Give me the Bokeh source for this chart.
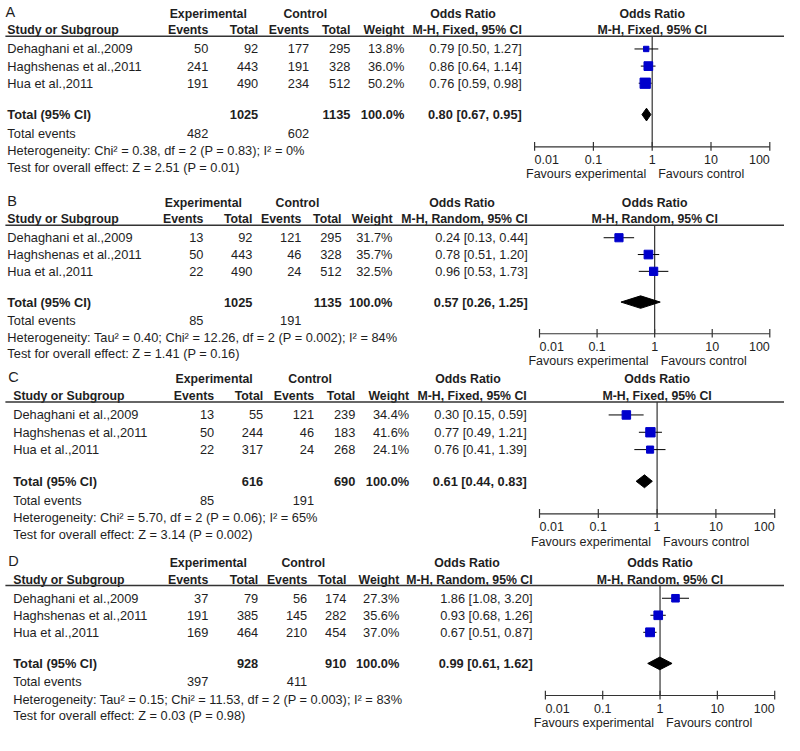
import math
from bokeh.plotting import figure
from bokeh.models import Range1d, LogScale, ColumnDataSource
from bokeh.layouts import column
from bokeh.embed import file_html
from bokeh.resources import INLINE
from bokeh.core.properties import value

# ---------------- data ----------------
studies = ["Dehaghani et al.,2009", "Haghshenas et al.,2011", "Hua et al.,2011"]
tick_values = [0.01, 0.1, 1, 10, 100]
tick_labels = ["0.01", "0.1", "1", "10", "100"]

# Panel A
a_exp_events = [50, 241, 191]
a_exp_total = [92, 443, 490]
a_ctl_events = [177, 191, 234]
a_ctl_total = [295, 328, 512]
a_weight = [13.8, 36.0, 50.2]
a_or = [0.79, 0.86, 0.76]
a_or_low = [0.50, 0.64, 0.59]
a_or_high = [1.27, 1.14, 0.98]
a_pooled = [0.80, 0.67, 0.95]
a_sum_total = [1025, 1135]
a_sum_events = [482, 602]
a_het = "Heterogeneity: Chi² = 0.38, df = 2 (P = 0.83); I² = 0%"
a_test = "Test for overall effect: Z = 2.51 (P = 0.01)"

# Panel B
b_exp_events = [13, 50, 22]
b_exp_total = [92, 443, 490]
b_ctl_events = [121, 46, 24]
b_ctl_total = [295, 328, 512]
b_weight = [31.7, 35.7, 32.5]
b_or = [0.24, 0.78, 0.96]
b_or_low = [0.13, 0.51, 0.53]
b_or_high = [0.44, 1.20, 1.73]
b_pooled = [0.57, 0.26, 1.25]
b_sum_total = [1025, 1135]
b_sum_events = [85, 191]
b_het = "Heterogeneity: Tau² = 0.40; Chi² = 12.26, df = 2 (P = 0.002); I² = 84%"
b_test = "Test for overall effect: Z = 1.41 (P = 0.16)"

# Panel C
c_exp_events = [13, 50, 22]
c_exp_total = [55, 244, 317]
c_ctl_events = [121, 46, 24]
c_ctl_total = [239, 183, 268]
c_weight = [34.4, 41.6, 24.1]
c_or = [0.30, 0.77, 0.76]
c_or_low = [0.15, 0.49, 0.41]
c_or_high = [0.59, 1.21, 1.39]
c_pooled = [0.61, 0.44, 0.83]
c_sum_total = [616, 690]
c_sum_events = [85, 191]
c_het = "Heterogeneity: Chi² = 5.70, df = 2 (P = 0.06); I² = 65%"
c_test = "Test for overall effect: Z = 3.14 (P = 0.002)"

# Panel D
d_exp_events = [37, 191, 169]
d_exp_total = [79, 385, 464]
d_ctl_events = [56, 145, 210]
d_ctl_total = [174, 282, 454]
d_weight = [27.3, 35.6, 37.0]
d_or = [1.86, 0.93, 0.67]
d_or_low = [1.08, 0.68, 0.51]
d_or_high = [3.20, 1.26, 0.87]
d_pooled = [0.99, 0.61, 1.62]
d_sum_total = [928, 910]
d_sum_events = [397, 411]
d_het = "Heterogeneity: Tau² = 0.15; Chi² = 11.53, df = 2 (P = 0.003); I² = 83%"
d_test = "Test for overall effect: Z = 0.03 (P = 0.98)"

panels = [
    dict(letter="A", method="Fixed", exp_events=a_exp_events, exp_total=a_exp_total,
         ctl_events=a_ctl_events, ctl_total=a_ctl_total, weight=a_weight, est=a_or,
         low=a_or_low, high=a_or_high, pooled=a_pooled, sum_total=a_sum_total,
         sum_events=a_sum_events, het=a_het, test=a_test),
    dict(letter="B", method="Random", exp_events=b_exp_events, exp_total=b_exp_total,
         ctl_events=b_ctl_events, ctl_total=b_ctl_total, weight=b_weight, est=b_or,
         low=b_or_low, high=b_or_high, pooled=b_pooled, sum_total=b_sum_total,
         sum_events=b_sum_events, het=b_het, test=b_test),
    dict(letter="C", method="Fixed", exp_events=c_exp_events, exp_total=c_exp_total,
         ctl_events=c_ctl_events, ctl_total=c_ctl_total, weight=c_weight, est=c_or,
         low=c_or_low, high=c_or_high, pooled=c_pooled, sum_total=c_sum_total,
         sum_events=c_sum_events, het=c_het, test=c_test),
    dict(letter="D", method="Random", exp_events=d_exp_events, exp_total=d_exp_total,
         ctl_events=d_ctl_events, ctl_total=d_ctl_total, weight=d_weight, est=d_or,
         low=d_or_low, high=d_or_high, pooled=d_pooled, sum_total=d_sum_total,
         sum_events=d_sum_events, het=d_het, test=d_test),
]

# ---------------- layout (reference-pixel units) ----------------
FONT = "Liberation Sans"
TXT = "#1e1e1e"
DARK = "#333333"
BLUE = "#0000CC"
W = 784
REF_W = 800

LAYOUT = {
    "A": dict(letter_x=5, study=7, ev_e=212, tot_e=263, ev_c=315, tot_c=357, weight=412,
              or_r=532, f_lo=545, f_hi=785, y_top=0.5, y_bot=191.5, height=187),
    "B": dict(letter_x=7, study=7, ev_e=207, tot_e=257, ev_c=307, tot_c=348, weight=400,
              or_r=538, f_lo=550, f_hi=785, y_top=-2.3, y_bot=187.2, height=182),
    "C": dict(letter_x=8, study=13, ev_e=218, tot_e=268, ev_c=320, tot_c=362, weight=417,
              or_r=537, f_lo=550, f_hi=790, y_top=4.1, y_bot=186.9, height=181),
    "D": dict(letter_x=8, study=13, ev_e=212, tot_e=263, ev_c=313, tot_c=353, weight=407,
              or_r=543, f_lo=556, f_hi=790, y_top=0.9, y_bot=191.1, height=185),
}
Y_LETTER, Y_H1, Y_H2, Y_LINE = 12, 14, 31, 37
ROW_Y = [50, 67.5, 85]
Y_TOTAL, Y_TEV, Y_HET, Y_TEST = 117, 136, 154, 171
Y_AXIS, Y_TICKLAB, Y_FAV = 150, 163, 178
TICK_UP, TICK_DOWN = 5, 4
DIAMOND_H = 6.5
BODY = "12.8px"
HEAD = "12.3px"
SMALL = "12.5px"
tick_align = ["left", "center", "center", "center", "right"]


def txt(p, xs, ys, texts, align="left", bold=False, size=BODY, rng="default", x_offset=0):
    src = ColumnDataSource(dict(x=xs, y=ys, t=texts, a=align if isinstance(align, list)
                                else [align] * len(xs)))
    p.text(x="x", y="y", text="t", source=src, text_align="a", text_baseline="middle",
           text_font=value(FONT), text_font_size=size,
           text_font_style="bold" if bold else "normal", text_color=TXT,
           x_range_name=rng, x_offset=x_offset)


def draw(pn):
    lay = LAYOUT[pn["letter"]]
    d = (lay["f_hi"] - lay["f_lo"]) / 4.0
    lo = 10 ** (-2 - lay["f_lo"] / d)
    hi = 10 ** (2 + (REF_W - lay["f_hi"]) / d)
    p = figure(width=W, height=lay["height"], x_range=Range1d(0, REF_W),
               y_range=Range1d(lay["y_bot"], lay["y_top"]), output_backend="svg",
               toolbar_location=None, min_border=0,
               x_axis_location=None, y_axis_location=None, outline_line_color=None,
               extra_x_ranges={"or": Range1d(lo, hi)}, extra_x_scales={"or": LogScale()})
    p.grid.grid_line_color = None

    method = "M-H, %s, 95%% CI" % pn["method"]
    n = len(studies)

    # panel letter
    txt(p, [lay["letter_x"]], [Y_LETTER], [pn["letter"]], size="14.5px")
    # header row 1
    txt(p, [lay["ev_e"]], [Y_H1], ["Experimental"], align="center", bold=True, size=HEAD)
    txt(p, [lay["ev_c"] - 4], [Y_H1], ["Control"], align="center", bold=True, size=HEAD)
    off = 60 if pn["method"] == "Fixed" else 67
    txt(p, [lay["or_r"] - off], [Y_H1], ["Odds Ratio"], align="center", bold=True, size=HEAD)
    # header row 2
    txt(p, [lay["study"]], [Y_H2], ["Study or Subgroup"], bold=True, size=HEAD)
    txt(p, [lay["ev_e"], lay["tot_e"], lay["ev_c"], lay["tot_c"], lay["weight"], lay["or_r"]],
        [Y_H2] * 6, ["Events", "Total", "Events", "Total", "Weight", method],
        align="right", bold=True, size=HEAD)
    # forest headers
    txt(p, [1, 1], [Y_H1, Y_H2], ["Odds Ratio", method], align="center", bold=True,
        size=HEAD, rng="or")
    # underline
    p.segment(x0=[5], x1=[REF_W], y0=[Y_LINE], y1=[Y_LINE], line_color=DARK, line_width=1.5)

    # study rows
    txt(p, [lay["study"]] * n, ROW_Y, studies)
    txt(p, [lay["ev_e"]] * n, ROW_Y, [str(v) for v in pn["exp_events"]], align="right")
    txt(p, [lay["tot_e"]] * n, ROW_Y, [str(v) for v in pn["exp_total"]], align="right")
    txt(p, [lay["ev_c"]] * n, ROW_Y, [str(v) for v in pn["ctl_events"]], align="right")
    txt(p, [lay["tot_c"]] * n, ROW_Y, [str(v) for v in pn["ctl_total"]], align="right")
    txt(p, [lay["weight"]] * n, ROW_Y, ["%.1f%%" % w for w in pn["weight"]], align="right")
    txt(p, [lay["or_r"]] * n, ROW_Y,
        ["%.2f [%.2f, %.2f]" % t for t in zip(pn["est"], pn["low"], pn["high"])], align="right")

    # total row
    txt(p, [lay["study"]], [Y_TOTAL], ["Total (95% CI)"], bold=True)
    txt(p, [lay["tot_e"], lay["tot_c"], lay["weight"], lay["or_r"]], [Y_TOTAL] * 4,
        [str(pn["sum_total"][0]), str(pn["sum_total"][1]), "100.0%",
         "%.2f [%.2f, %.2f]" % tuple(pn["pooled"])], align="right", bold=True)
    # total events row
    txt(p, [lay["study"]], [Y_TEV], ["Total events"])
    txt(p, [lay["ev_e"], lay["ev_c"]], [Y_TEV] * 2,
        [str(pn["sum_events"][0]), str(pn["sum_events"][1])], align="right")
    # heterogeneity / overall effect
    txt(p, [lay["study"], lay["study"]], [Y_HET, Y_TEST], [pn["het"], pn["test"]])

    # ---- forest plot ----
    p.segment(x0=[1], x1=[1], y0=[Y_LINE], y1=[Y_AXIS], line_color=DARK, line_width=1.2,
              x_range_name="or")
    src = ColumnDataSource(dict(est=pn["est"], low=pn["low"], high=pn["high"], y=ROW_Y,
                                size=[1.45 * math.sqrt(w) for w in pn["weight"]]))
    p.segment(x0="low", x1="high", y0="y", y1="y", source=src, line_color="black",
              line_width=1, x_range_name="or")
    p.scatter(x="est", y="y", size="size", marker="square", source=src, fill_color=BLUE,
              line_color=BLUE, x_range_name="or")
    est, plo, phi = pn["pooled"]
    p.patch(x=[plo, est, phi, est],
            y=[Y_TOTAL, Y_TOTAL - DIAMOND_H, Y_TOTAL, Y_TOTAL + DIAMOND_H],
            fill_color="black", line_color="black", x_range_name="or")

    # odds-ratio axis (log scale), drawn at the foot of the forest
    p.segment(x0=[tick_values[0]], x1=[tick_values[-1]], y0=[Y_AXIS], y1=[Y_AXIS],
              line_color=DARK, line_width=1.2, x_range_name="or")
    p.segment(x0=tick_values, x1=tick_values, y0=[Y_AXIS - TICK_UP] * len(tick_values),
              y1=[Y_AXIS + TICK_DOWN] * len(tick_values), line_color=DARK, line_width=1.2,
              x_range_name="or")
    txt(p, tick_values, [Y_TICKLAB] * len(tick_values), tick_labels, align=tick_align,
        size=SMALL, rng="or")
    txt(p, [1], [Y_FAV], ["Favours experimental"], align="right", size=SMALL, rng="or",
        x_offset=-6)
    txt(p, [1], [Y_FAV], ["Favours control"], align="left", size=SMALL, rng="or",
        x_offset=6)
    return p


figs = [draw(pn) for pn in panels]
layout = column(*figs, spacing=0)
open("out.html", "w").write(file_html(layout, INLINE))
